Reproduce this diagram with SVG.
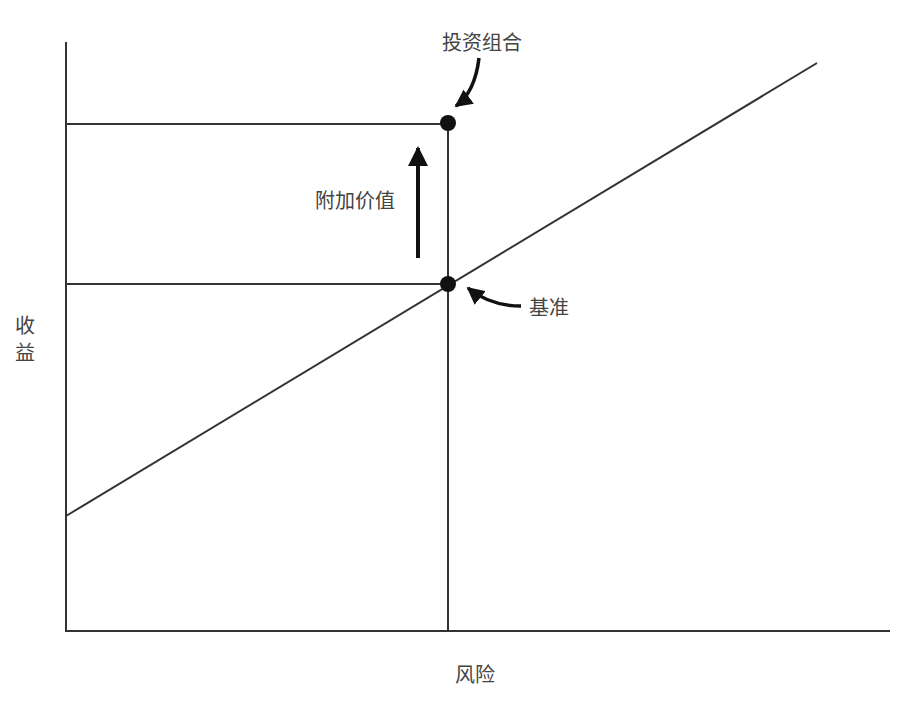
<svg xmlns="http://www.w3.org/2000/svg" width="906" height="702" viewBox="0 0 906 702">
<style>
.ln{stroke:#333;stroke-width:2;fill:none}
.t{font-family:"Noto Sans CJK SC","Noto Sans",sans-serif;font-size:20px;fill:#444;text-anchor:middle}
</style>
<defs>
<marker id="ah" viewBox="0 0 10 10" refX="9" refY="5" markerWidth="5" markerHeight="5" orient="auto" markerUnits="strokeWidth">
<path d="M0,0 L10,5 L0,10 Z" fill="#111"/>
</marker>
</defs>
<rect width="906" height="702" fill="#fff"/>
<g id="axes">
<path class="ln" d="M66,42 V631 H890"/>
</g>
<g id="connectors">
<path class="ln" d="M66,124 H448"/>
<path class="ln" d="M66,284 H448"/>
<path class="ln" d="M448,123 V631"/>
<path class="ln" d="M66,516 L817,63"/>
<path d="M418,258 V148" stroke="#111" stroke-width="4" fill="none" marker-end="url(#ah)"/>
<path d="M479,58 Q475,92 456,106" stroke="#111" stroke-width="3.5" fill="none" marker-end="url(#ah)"/>
<path d="M521,306 Q490,306 468,288" stroke="#111" stroke-width="3.5" fill="none" marker-end="url(#ah)"/>
</g>
<g id="portfolio">
<circle cx="448" cy="123" r="8" fill="#111"/>
<text class="t" x="482" y="50">投资组合</text>
</g>
<g id="benchmark">
<circle cx="448" cy="284" r="8" fill="#111"/>
<text class="t" x="549" y="315">基准</text>
</g>
<g id="value-added">
<text class="t" x="355" y="208">附加价值</text>
</g>
<g id="y-label">
<text class="t" x="25" y="333">收</text>
<text class="t" x="25" y="360">益</text>
</g>
<g id="x-label">
<text class="t" x="475" y="682">风险</text>
</g>
</svg>
